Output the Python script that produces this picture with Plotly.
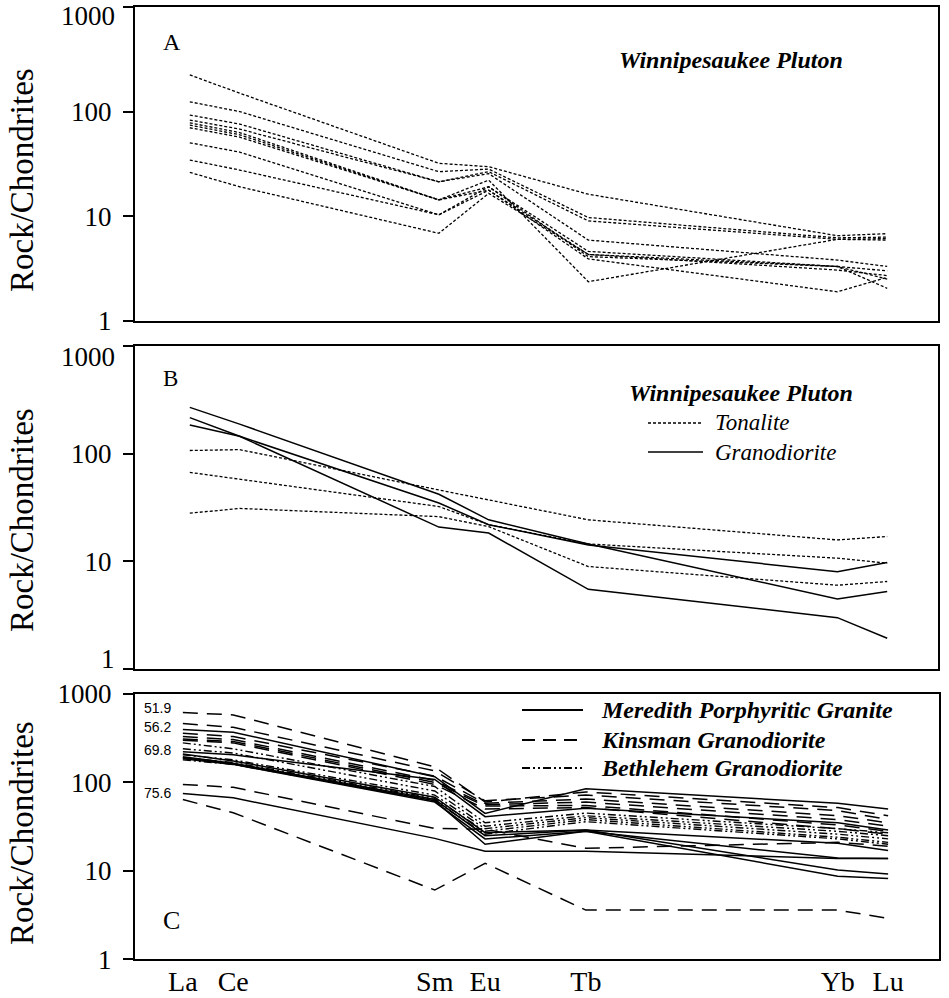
import plotly.graph_objects as go

# ---- REE order and atomic numbers (x positions) ----
ELEMENTS = ["La", "Ce", "Sm", "Eu", "Tb", "Yb", "Lu"]
ATOMIC_NO = [57, 58, 62, 63, 65, 70, 71]

# ---- Panel A: Winnipesaukee Pluton samples (rock/chondrite) ----
A_SAMPLES = [
    [224, 150, 32.0, 29.7, 16.2, 6.5, 6.8],
    [124, 100, 26.6, 28.2, 9.7, 6.2, 6.3],
    [92.6, 76, 21.3, 26.6, 9.0, 6.0, 5.9],
    [83, 68, 21.3, 25.5, 5.9, 3.8, 3.3],
    [78, 63, 14.3, 22.1, 2.36, 6.0, 6.1],
    [74.3, 60, 14.3, 19.1, 4.6, 3.3, 3.0],
    [70, 57, 14.3, 17.7, 4.3, 3.05, 2.7],
    [50.3, 41, 10.3, 19.1, 4.1, 3.3, 2.04],
    [34.4, 27.6, 10.3, 17.7, 3.9, 1.89, 2.6],
    [26.2, 19.1, 6.85, 16.5, 4.3, 3.3, 2.5],
]

# ---- Panel B: Winnipesaukee tonalite and granodiorite ----
B_TONALITE = [
    [107, 109, 46, 37, 24.3, 15.8, 17.0],
    [67, 58, 32.3, 21.9, 14.5, 10.7, 9.6],
    [28, 31, 26, 21, 8.95, 6.0, 6.5],
]
B_GRANODIORITE = [
    [269, 188, 42.0, 24.3, 14.5, 4.48, 5.24],
    [216, 145, 20.8, 18.3, 5.5, 3.0, 1.93],
    [185, 145, 34.8, 21.9, 14.2, 8.0, 9.75],
]

# ---- Panel C: Meredith, Kinsman and Bethlehem suites ----
C_MEREDITH = [
    [398, 370, 116, 44.6, 85, 58, 50],
    [222, 205, 108, 41, 51, 35, 29],
    [210, 175, 68, 27, 29, 20.5, 17],
    [195, 165, 64, 25, 29, 10.2, 9.2],
    [185, 160, 60, 23, 28, 8.7, 8.2],
    [190, 162, 62, 20, 28, 14, 13.8],
    [75.2, 67, 23.3, 16.7, 16.7, 13.8, 13.8],
]
C_KINSMAN = [
    [618, 580, 150, 60, 78, 52, 42],
    [464, 420, 135, 62, 72, 48, 38],
    [360, 330, 118, 58, 65, 42, 35],
    [330, 305, 105, 56, 60, 38, 32],
    [310, 290, 100, 54, 55, 33, 28],
    [300, 280, 95, 50, 52, 30, 26],
    [95, 88, 30.2, 29.5, 18, 21, 19],
    [64, 45.4, 6.07, 12.2, 3.6, 3.6, 2.9],
]
C_BETHLEHEM = [
    [280, 240, 90, 35, 45, 30, 27],
    [240, 215, 80, 32, 42, 28, 25],
    [205, 180, 72, 30, 40, 26, 23],
    [190, 168, 66, 28, 38, 24, 21],
    [180, 160, 62, 26, 36, 23, 20],
]
C_SIO2_LABELS = ["51.9", "56.2", "69.8", "75.6"]

Y_TICKS = [1, 10, 100, 1000]
Y_TICK_TEXT = ["1", "10", "100", "1000"]

W, H = 949, 998
SERIF = "Liberation Serif, Times New Roman, serif"

DOTTED = "3px,2px"
DASHED = "15px,9px"
DASHDOT = "8px,3px,2px,3px,2px,3px"


def px(x, y):
    return x / W, 1 - y / H


fig = go.Figure()


def add_group(samples, xa, ya, dash, width=1.3):
    for vals in samples:
        fig.add_trace(go.Scatter(
            x=ATOMIC_NO, y=vals, mode="lines", xaxis=xa, yaxis=ya,
            line=dict(color="black", width=width, dash=dash),
            showlegend=False, hoverinfo="skip"))


add_group(A_SAMPLES, "x", "y", DOTTED)
add_group(B_TONALITE, "x2", "y2", DOTTED)
add_group(B_GRANODIORITE, "x2", "y2", "solid", 1.5)
add_group(C_MEREDITH, "x3", "y3", "solid", 1.5)
add_group(C_KINSMAN, "x3", "y3", DASHED, 1.5)
add_group(C_BETHLEHEM, "x3", "y3", DASHDOT, 1.4)

# panel frames (left, top, right, bottom in px)
frames = {
    "": (135, 7, 938, 320.7),
    "2": (135, 346, 938, 669),
    "3": (135, 694, 939, 959.3),
}
xranges = {"": [55.9, 72.02], "2": [55.9, 72.02], "3": [56.05, 72.01]}
# tick labels that sit inside the frame edge are drawn separately below
hidden_ticks = {"": {"1000"}, "2": {"1000", "1"}, "3": set()}

layout = dict(
    template="none",
    width=W, height=H, margin=dict(l=0, r=0, t=0, b=0, pad=0),
    paper_bgcolor="white", plot_bgcolor="white", showlegend=False,
)

for k, (l, t, r, b) in frames.items():
    x0, y1 = px(l, t)
    x1, y0 = px(r, b)
    last = k == "3"
    layout["xaxis" + k] = dict(
        domain=[x0, x1], range=xranges[k], anchor="y" + k, automargin=False,
        showgrid=False, zeroline=False, showline=True, mirror=True,
        linecolor="black", linewidth=2,
        tickmode="array", tickvals=ATOMIC_NO if last else [],
        ticktext=ELEMENTS if last else [], ticks="",
        showticklabels=last, ticklabelstandoff=-4,
        tickfont=dict(family=SERIF, size=28, color="black"),
    )
    layout["yaxis" + k] = dict(
        domain=[y0, y1], type="log", range=[0, 3], anchor="x" + k,
        automargin=False,
        showgrid=False, zeroline=False, showline=True, mirror=True,
        linecolor="black", linewidth=2,
        tickmode="array", tickvals=Y_TICKS,
        ticktext=["" if s in hidden_ticks[k] else s for s in Y_TICK_TEXT],
        ticks="outside", ticklen=10, tickwidth=2, tickcolor="black",
        ticklabelstandoff=6,
        tickfont=dict(family=SERIF, size=27, color="black"),
    )

annotations = []


def text(s, x, y, size, xanchor="left", family=SERIF, angle=0):
    ax, ay = px(x, y)
    annotations.append(dict(
        text=s, x=ax, y=ay, xref="paper", yref="paper",
        xanchor=xanchor, yanchor="middle", showarrow=False,
        textangle=angle, font=dict(family=family, size=size, color="black")))


# edge tick labels nudged inside the panel height
text("1000", 117, 16, 27, xanchor="right")
text("1000", 117, 357, 27, xanchor="right")
text("1", 117, 659, 27, xanchor="right")

# y-axis titles
for yc in (180, 520, 833):
    text("Rock/Chondrites", 22, yc, 33, xanchor="center", angle=-90)

# panel letters
text("A", 172, 42, 24, xanchor="center")
text("B", 170, 378, 23, xanchor="center")
text("C", 171, 920, 26, xanchor="center")

# panel A heading
text("<b><i>Winnipesaukee Pluton</i></b>", 617, 60, 24)

# panel B legend
text("<b><i>Winnipesaukee Pluton</i></b>", 627, 393, 24)
text("<i>Tonalite</i>", 713, 423, 23)
text("<i>Granodiorite</i>", 713, 452, 23)

# panel C legend
text("<b><i>Meredith Porphyritic Granite</i></b>", 599, 710, 24)
text("<b><i>Kinsman Granodiorite</i></b>", 599, 740, 24)
text("<b><i>Bethlehem Granodiorite</i></b>", 599, 768, 24)

# SiO2 labels beside the La end of selected profiles
for lab, yv in zip(C_SIO2_LABELS, [708, 727, 750, 793]):
    text(lab, 173, yv, 14, xanchor="right", family="Liberation Sans, Arial, sans-serif")

shapes = []


def sample_line(x0, x1, y, dash, width=1.5):
    a0, b0 = px(x0, y)
    a1, _ = px(x1, y)
    shapes.append(dict(type="line", xref="paper", yref="paper",
                       x0=a0, x1=a1, y0=b0, y1=b0,
                       line=dict(color="black", width=width, dash=dash)))


sample_line(648, 703, 423, DOTTED)
sample_line(648, 703, 452, "solid")
sample_line(522, 583, 710, "solid", 2)
sample_line(522, 583, 740, "13px,8px", 2)
sample_line(522, 583, 768, DASHDOT, 2)

layout["annotations"] = annotations
layout["shapes"] = shapes
fig.update_layout(**layout)

fig.write_html("out.html")
